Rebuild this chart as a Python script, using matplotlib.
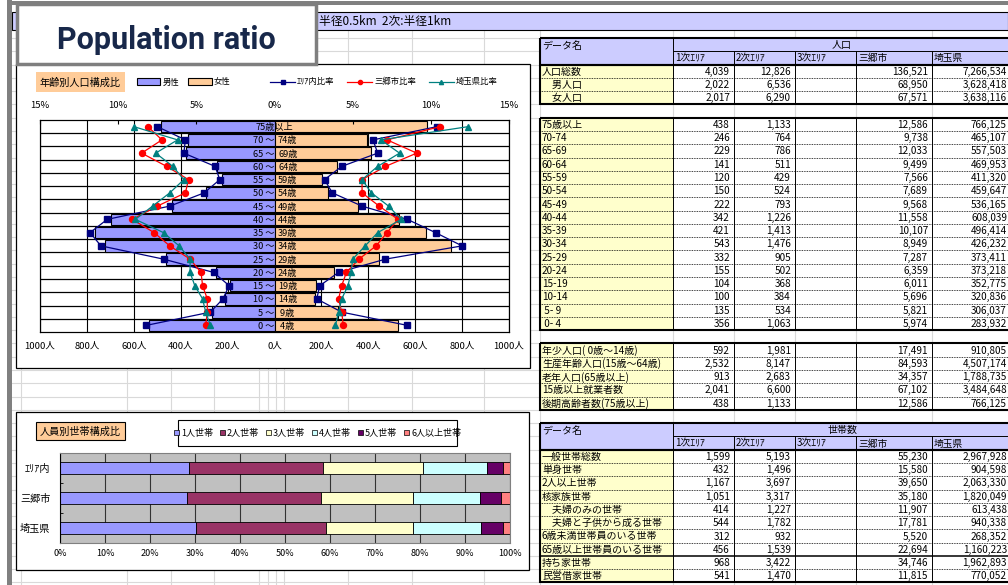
import numpy as np
import matplotlib
matplotlib.use("Agg")
import matplotlib.pyplot as plt
from matplotlib.patches import Rectangle, Patch
from matplotlib.lines import Line2D

plt.rcParams['font.family'] = ['Noto Sans CJK JP', 'DejaVu Sans']

W, H = 1008, 585

# ---- pyramid (2次エリア, persons) ----
age_labels = ["75歳以上", "70 ～ 74歳", "65 ～ 69歳", "60 ～ 64歳", "55 ～ 59歳",
              "50 ～ 54歳", "45 ～ 49歳", "40 ～ 44歳", "35 ～ 39歳", "30 ～ 34歳",
              "25 ～ 29歳", "20 ～ 24歳", "15 ～ 19歳", "10 ～ 14歳", "5 ～  9歳", "0 ～  4歳"]
male_pop = [483, 371, 376, 245, 226, 294, 437, 697, 765, 724, 461, 248, 189, 211, 265, 536]
female_pop = [650, 393, 410, 266, 203, 230, 356, 529, 648, 752, 444, 254, 179, 173, 269, 527]

# ---- age ratios (%) ----
area_m = [7.5, 5.7, 5.8, 3.8, 3.5, 4.5, 6.7, 10.7, 11.8, 11.1, 7.1, 3.9, 2.9, 3.3, 4.1, 8.2]
area_f = [10.4, 6.3, 6.6, 4.3, 3.2, 3.7, 5.6, 8.5, 10.3, 12.0, 7.1, 4.1, 2.9, 2.7, 4.3, 8.5]
misato_m = [8.1, 7.2, 8.5, 6.9, 5.5, 5.7, 7.5, 9.1, 7.7, 6.7, 5.4, 4.7, 4.6, 4.3, 4.3, 4.4]
misato_f = [10.6, 7.2, 9.1, 7.1, 5.6, 5.6, 6.7, 7.9, 7.2, 6.5, 5.4, 4.6, 4.3, 4.1, 4.3, 4.4]
saitama_m = [9.0, 6.2, 7.6, 6.5, 5.8, 6.7, 7.8, 8.9, 7.1, 6.1, 5.4, 5.4, 5.1, 4.6, 4.4, 4.1]
saitama_f = [12.4, 6.8, 8.0, 6.6, 5.6, 6.2, 7.3, 8.1, 6.6, 5.8, 5.0, 4.9, 4.7, 4.3, 4.1, 3.9]

# ---- household size shares (%) ----
hh_regions = ["ｴﾘｱ内", "三郷市", "埼玉県"]
hh_sizes = ["1人世帯", "2人世帯", "3人世帯", "4人世帯", "5人世帯", "6人以上世帯"]
hh_1 = [28.7, 28.2, 30.3]
hh_2 = [29.8, 29.7, 28.7]
hh_3 = [22.1, 20.6, 19.4]
hh_4 = [14.3, 14.9, 15.2]
hh_5 = [3.5, 4.7, 4.8]
hh_6 = [1.6, 1.9, 1.6]
hh_colors = ["#9999FF", "#993366", "#FFFFCC", "#CCFFFF", "#660066", "#FF8080"]

# ---- tables ----
col_names = ["1次ｴﾘｱ", "2次ｴﾘｱ", "3次ｴﾘｱ", "三郷市", "埼玉県"]

pop_labels = ["人口総数", "　男人口", "　女人口"]
pop_a1 = [4039, 2022, 2017]
pop_a2 = [12826, 6536, 6290]
pop_misato = [136521, 68950, 67571]
pop_saitama = [7266534, 3628418, 3638116]

agetab_labels = ["75歳以上", "70-74", "65-69", "60-64", "55-59", "50-54", "45-49", "40-44",
                 "35-39", "30-34", "25-29", "20-24", "15-19", "10-14", " 5- 9", " 0- 4"]
agetab_a1 = [438, 246, 229, 141, 120, 150, 222, 342, 421, 543, 332, 155, 104, 100, 135, 356]
agetab_a2 = [1133, 764, 786, 511, 429, 524, 793, 1226, 1413, 1476, 905, 502, 368, 384, 534, 1063]
agetab_misato = [12586, 9738, 12033, 9499, 7566, 7689, 9568, 11558, 10107, 8949, 7287, 6359,
                 6011, 5696, 5821, 5974]
agetab_saitama = [766125, 465107, 557503, 469953, 411320, 459647, 536165, 608039, 496414,
                  426232, 373411, 373218, 352775, 320836, 306037, 283932]

sum_labels = ["年少人口( 0歳～14歳)", "生産年齢人口(15歳～64歳)", "老年人口(65歳以上)",
              "15歳以上就業者数", "後期高齢者数(75歳以上)"]
sum_a1 = [592, 2532, 913, 2041, 438]
sum_a2 = [1981, 8147, 2683, 6600, 1133]
sum_misato = [17491, 84593, 34357, 67102, 12586]
sum_saitama = [910805, 4507174, 1788735, 3484648, 766125]

hhtab_labels = ["一般世帯総数", "単身世帯", "2人以上世帯", "核家族世帯", "　夫婦のみの世帯",
                "　夫婦と子供から成る世帯", "6歳未満世帯員のいる世帯", "65歳以上世帯員のいる世帯",
                "持ち家世帯", "民営借家世帯"]
hhtab_a1 = [1599, 432, 1167, 1051, 414, 544, 312, 456, 968, 541]
hhtab_a2 = [5193, 1496, 3697, 3317, 1227, 1782, 932, 1539, 3422, 1470]
hhtab_misato = [55230, 15580, 39650, 35180, 11907, 17781, 5520, 22694, 34746, 11815]
hhtab_saitama = [2967928, 904598, 2063330, 1820049, 613438, 940338, 268352, 1160223,
                 1962893, 770052]

HEAD_C = "#CCCCFF"
LABEL_C = "#FFFFCC"
GRID_C = "#D9D9D9"
TX = [540, 673, 734, 795, 856, 932, 1011]
ROW_H = 13.28


def row_y(k):
    return 38 + ROW_H * k


def px_rect(x0, y0, x1, y1):
    return [x0 / W, 1 - y1 / H, (x1 - x0) / W, (y1 - y0) / H]


fig = plt.figure(figsize=(W / 100, H / 100), dpi=100)
fig.patch.set_facecolor("white")

bg = fig.add_axes([0, 0, 1, 1])
bg.set_xlim(0, W)
bg.set_ylim(H, 0)
bg.axis("off")

# sheet gridlines
sheet_cols = [21, 127, 171, 214, 259, 268, 276, 284, 348, 412, 484] + TX[:-1]
for x in sheet_cols:
    bg.plot([x, x], [30, H], color=GRID_C, lw=0.8, zorder=0)
for k in range(0, 43):
    bg.plot([12, W], [row_y(k), row_y(k)], color=GRID_C, lw=0.8, zorder=0)

# header strip
bg.add_patch(Rectangle((12, 12), W - 12, 18, facecolor=HEAD_C, edgecolor="black", lw=0.8, zorder=1))
bg.text(319, 22, "半径0.5km  2次:半径1km", fontsize=8.5, va="center", ha="left", zorder=2)

# chart frames
bg.add_patch(Rectangle((16, 64), 514, 304, facecolor="white", edgecolor="black", lw=0.9, zorder=2))
bg.add_patch(Rectangle((16, 412), 513, 158, facecolor="white", edgecolor="black", lw=0.9, zorder=2))

bg.add_patch(Rectangle((36, 72), 89, 20, facecolor="#FFCC99", edgecolor="none", zorder=3))
bg.text(80.5, 82.5, "年齢別人口構成比", ha="center", va="center", fontsize=7.3, zorder=4)
bg.add_patch(Rectangle((36, 422), 89, 18, facecolor="#FFCC99", edgecolor="black", lw=0.8, zorder=3))
bg.text(80.5, 431.5, "人員別世帯構成比", ha="center", va="center", fontsize=7.3, zorder=4)
bg.add_patch(Rectangle((178, 420), 279, 26, facecolor="white", edgecolor="black", lw=0.8, zorder=3))


def outline(y0, y1):
    bg.add_patch(Rectangle((TX[0], y0), TX[-1] - TX[0], y1 - y0, fill=False,
                           edgecolor="black", lw=1.5, zorder=6))


def draw_header(k0, group):
    y0, ym, y1 = row_y(k0), row_y(k0 + 1), row_y(k0 + 2)
    bg.add_patch(Rectangle((TX[0], y0), TX[-1] - TX[0], y1 - y0, facecolor=HEAD_C,
                           edgecolor="none", zorder=3))
    bg.text(TX[0] + 2, y0 + 8, "データ名", fontsize=7.2, va="center", zorder=5)
    bg.text((TX[1] + TX[-1]) / 2, (y0 + ym) / 2 + 0.5, group, fontsize=7.2,
            ha="center", va="center", zorder=5)
    bg.plot([TX[1], TX[-1]], [ym, ym], color="black", lw=0.7, zorder=4)
    bg.plot([TX[1], TX[1]], [y0, y1], color="black", lw=0.7, zorder=4)
    for j, name in enumerate(col_names):
        bg.text(TX[j + 1] + 2, (ym + y1) / 2 + 0.5, name, fontsize=7, va="center", zorder=5)
        if j > 0:
            bg.plot([TX[j + 1]] * 2, [ym, y1], color="black", lw=0.7, zorder=4)
    outline(y0, y1)


def draw_block(k0, labels, columns, solid_rows=()):
    n = len(labels)
    y0, y1 = row_y(k0), row_y(k0 + n)
    bg.add_patch(Rectangle((TX[0], y0), TX[1] - TX[0], y1 - y0, facecolor=LABEL_C,
                           edgecolor="none", zorder=3))
    bg.add_patch(Rectangle((TX[1], y0), TX[-1] - TX[1], y1 - y0, facecolor="white",
                           edgecolor="none", zorder=3))
    for i, lab in enumerate(labels):
        ya, yb = row_y(k0 + i), row_y(k0 + i + 1)
        yc = (ya + yb) / 2 + 0.5
        bg.text(TX[0] + 2, yc, lab, fontsize=7.2, va="center", zorder=5)
        for j, vals in zip([1, 2, 4, 5], columns):
            bg.text(TX[j + 1] - 4, yc, f"{vals[i]:,}", fontsize=7.2, ha="right",
                    va="center", zorder=5)
        if i < n - 1:
            if i in solid_rows:
                bg.plot([TX[0], TX[-1]], [yb, yb], color="black", lw=1.1, zorder=4)
            else:
                bg.plot([TX[0], TX[-1]], [yb, yb], color="black", lw=0.6,
                        ls=(0, (1, 1)), zorder=4)
    for x in TX[1:-1]:
        bg.plot([x, x], [y0, y1], color="black", lw=0.7, zorder=4)
    outline(y0, y1)


draw_header(0, "人口")
draw_block(2, pop_labels, [pop_a1, pop_a2, pop_misato, pop_saitama])
draw_block(6, agetab_labels, [agetab_a1, agetab_a2, agetab_misato, agetab_saitama])
draw_block(23, sum_labels, [sum_a1, sum_a2, sum_misato, sum_saitama])
draw_header(29, "世帯数")
draw_block(31, hhtab_labels, [hhtab_a1, hhtab_a2, hhtab_misato, hhtab_saitama], solid_rows=(7,))

# ---- population pyramid ----
ax = fig.add_axes(px_rect(40, 120, 509, 332))
ypos = np.arange(len(age_labels))
ax.barh(ypos, [-v for v in male_pop], height=0.86, color="#9999FF", edgecolor="black", lw=0.8)
ax.barh(ypos, female_pop, height=0.86, color="#FFCC99", edgecolor="black", lw=0.8)
ax.set_xlim(-1000, 1000)
ax.set_ylim(len(age_labels) - 0.5, -0.5)
ticks = np.arange(-1000, 1001, 200)
ax.set_xticks(ticks)
ax.set_xticklabels([f"{abs(t)}人" for t in ticks])
ax.set_yticks([])
ax.set_yticks(np.arange(0.5, len(age_labels) - 1, 1), minor=True)
ax.grid(axis="x", which="major", color="black", lw=0.8)
ax.grid(axis="y", which="minor", color="black", lw=0.9)
ax.set_axisbelow(True)
ax.tick_params(axis="x", length=0, pad=7, labelsize=6.8)
ax.tick_params(axis="y", which="both", length=0)
for s in ax.spines.values():
    s.set_color("black")
    s.set_linewidth(0.8)

for i, lab in enumerate(age_labels):
    if " ～ " in lab:
        lo, hi = lab.split(" ～ ")
        ax.text(0, i + 0.08, lo + " ～", ha="right", va="center", fontsize=6.6)
        ax.text(15, i + 0.08, hi, ha="left", va="center", fontsize=6.6)
    else:
        ax.text(0, i + 0.08, lab, ha="center", va="center", fontsize=6.6)

ax_pct = ax.twiny()
ax_pct.set_xlim(-15, 15)
pticks = np.arange(-15, 16, 5)
ax_pct.set_xticks(pticks)
ax_pct.set_xticklabels([f"{abs(t)}%" for t in pticks])
ax_pct.tick_params(axis="x", direction="in", length=3, pad=7, labelsize=6.8)

ratio_series = [
    (area_m, area_f, "#000080", "s", "ｴﾘｱ内比率"),
    (misato_m, misato_f, "#FF0000", "o", "三郷市比率"),
    (saitama_m, saitama_f, "#008080", "^", "埼玉県比率"),
]
for vals_m, vals_f, color, marker, _ in ratio_series:
    ax_pct.plot([-v for v in vals_m], ypos, color=color, marker=marker, ms=4.3, lw=0.9)
    ax_pct.plot(vals_f, ypos, color=color, marker=marker, ms=4.3, lw=0.9)

fig.legend([Patch(facecolor="#9999FF", edgecolor="black", lw=0.8),
            Patch(facecolor="#FFCC99", edgecolor="black", lw=0.8)],
           ["男性", "女性"], loc="center left", bbox_to_anchor=(137 / W, 1 - 82 / H),
           ncol=2, frameon=False, fontsize=6, handlelength=2.8, handleheight=1.0,
           handletextpad=0.25, columnspacing=1.1, borderpad=0, borderaxespad=0)
fig.legend([Line2D([], [], color=c, marker=m, ms=3, lw=0.9) for _, _, c, m, _ in ratio_series],
           [lab for *_, lab in ratio_series], loc="center left",
           bbox_to_anchor=(270 / W, 1 - 82 / H), ncol=3, frameon=False, fontsize=6,
           handlelength=3.0, handletextpad=0.25, columnspacing=1.5, borderpad=0,
           borderaxespad=0)

# ---- household composition ----
ax2 = fig.add_axes(px_rect(60, 453, 510, 543))
ax2.set_facecolor("#C0C0C0")
left = np.zeros(len(hh_regions))
for vals, color, name in zip([hh_1, hh_2, hh_3, hh_4, hh_5, hh_6], hh_colors, hh_sizes):
    ax2.barh(np.arange(len(hh_regions)), vals, left=left, height=0.4, color=color,
             edgecolor="black", lw=0.6, label=name)
    left += np.array(vals)
ax2.set_xlim(0, 100)
ax2.set_ylim(len(hh_regions) - 0.5, -0.5)
ax2.set_xticks(range(0, 101, 10))
ax2.set_xticklabels([f"{t}%" for t in range(0, 101, 10)])
ax2.set_yticks(range(len(hh_regions)))
ax2.set_yticklabels(hh_regions)
ax2.set_yticks([0.5, 1.5], minor=True)
ax2.grid(axis="x", color="#333333", lw=0.8)
ax2.set_axisbelow(True)
ax2.tick_params(axis="x", length=0, pad=4, labelsize=6.5)
ax2.tick_params(axis="y", which="major", length=0, pad=7, labelsize=7.3)
ax2.tick_params(axis="y", which="minor", length=2, direction="in")
for s in ax2.spines.values():
    s.set_color("#808080")
    s.set_linewidth(0.8)
ax2.spines["left"].set_color("black")

fig.legend([Patch(facecolor=c, edgecolor="black", lw=0.5) for c in hh_colors], hh_sizes,
           loc="center", bbox_to_anchor=(317.5 / W, 1 - 433 / H), ncol=6, frameon=False,
           fontsize=6.5, handlelength=0.55, handleheight=0.55, handletextpad=0.25,
           columnspacing=0.75, borderpad=0, borderaxespad=0)

# ---- title banner and outer frame ----
top = fig.add_axes([0, 0, 1, 1], zorder=10)
top.set_xlim(0, W)
top.set_ylim(H, 0)
top.axis("off")
top.patch.set_visible(False)
top.add_patch(Rectangle((7, 0), 5, H, facecolor="#808080", edgecolor="none"))
top.add_patch(Rectangle((7, 1), W, 4, facecolor="#808080", edgecolor="none"))
top.add_patch(Rectangle((16.5, 3.5), 299, 60.5, facecolor="white", edgecolor="#7F7F7F", lw=2.5))
top.text(166, 49, "Population ratio", ha="center", va="baseline", fontsize=22,
         fontweight="bold", color="#18284A", family="Roboto")

fig.savefig("out.png", dpi=100, facecolor="white")
